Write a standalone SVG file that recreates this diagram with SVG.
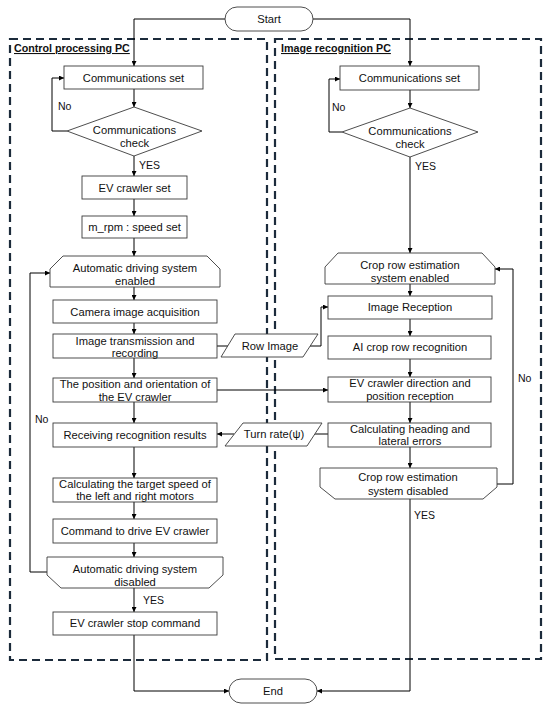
<svg xmlns="http://www.w3.org/2000/svg" width="550" height="711" viewBox="0 0 550 711">
<defs>
<marker id="ah" viewBox="0 0 6 6" refX="6" refY="3" markerWidth="5" markerHeight="5" markerUnits="userSpaceOnUse" orient="auto">
<path d="M0,0 L6,3 L0,6 z" fill="#000"/>
</marker>
<style>
.bg{fill:#fff}
.frame{fill:none;stroke:#1c2b3b;stroke-width:2.2;stroke-dasharray:8,5}
.nd{fill:#fff;stroke:#3a3a3a;stroke-width:0.9}
.t{font-family:"Liberation Sans",Arial,sans-serif;font-size:11.2px;fill:#111;text-anchor:middle}
.lb{font-family:"Liberation Sans",Arial,sans-serif;font-size:10.5px;fill:#111}
.ttl{font-family:"Liberation Sans",Arial,sans-serif;font-size:10.7px;font-weight:bold;fill:#111;text-decoration:underline}
.c{fill:none;stroke:#000;stroke-width:1}
.a{marker-end:url(#ah)}
</style>
</defs>
<rect class="bg" x="0" y="0" width="550" height="711"/>

<g id="frames">
<rect class="frame" x="10" y="39" width="257" height="621"/>
<rect class="frame" x="275" y="39" width="266" height="620"/>
<text class="ttl" x="14" y="52">Control processing PC</text>
<text class="ttl" x="281" y="52">Image recognition PC</text>
</g>

<g id="connectors">
<path class="c a" d="M225,19 H134 V66"/>
<path class="c a" d="M313,19 H410 V66"/>
<path class="c a" d="M134,89 V107"/>
<path class="c a" d="M67,131 H52 V78 H64"/>
<path class="c a" d="M134,156 V176"/>
<path class="c a" d="M134,199 V216"/>
<path class="c a" d="M134,238 V256"/>
<path class="c a" d="M134,287 V300"/>
<path class="c a" d="M134,323 V334"/>
<path class="c a" d="M134,358 V378"/>
<path class="c a" d="M134,402 V423"/>
<path class="c a" d="M134,447 V478"/>
<path class="c a" d="M134,502 V519"/>
<path class="c a" d="M134,543 V557"/>
<path class="c a" d="M47,572 H30 V273 H50"/>
<path class="c a" d="M134,588 V612"/>
<path class="c a" d="M134,635 V691 H229"/>
<path class="c" d="M217,346 H228"/>
<path class="c a" d="M310,346 H321 V307 H328"/>
<path class="c a" d="M217,390 H328"/>
<path class="c" d="M328,434 H314"/>
<path class="c a" d="M234,434 H217"/>
<path class="c a" d="M410,90 V108"/>
<path class="c a" d="M342,132 H329 V79 H340"/>
<path class="c a" d="M410,157 V253"/>
<path class="c a" d="M410,284 V296"/>
<path class="c a" d="M410,319 V336"/>
<path class="c a" d="M410,359 V377"/>
<path class="c a" d="M410,402 V423"/>
<path class="c a" d="M410,447 V468"/>
<path class="c a" d="M497,484 H513 V269 H495"/>
<path class="c a" d="M410,499 V691 H317"/>
</g>

<g id="labels">
<text class="lb" x="58" y="110">No</text>
<text class="lb" x="139" y="169">YES</text>
<text class="lb" x="35" y="423">No</text>
<text class="lb" x="143" y="604">YES</text>
<text class="lb" x="332" y="111">No</text>
<text class="lb" x="415" y="170">YES</text>
<text class="lb" x="518" y="382">No</text>
<text class="lb" x="414" y="519">YES</text>
</g>

<g id="start">
<rect class="nd" x="225" y="7" width="88" height="24" rx="12"/>
<text class="t" x="269" y="23">Start</text>
</g>
<g id="end">
<rect class="nd" x="229" y="679" width="88" height="24" rx="12"/>
<text class="t" x="273" y="695">End</text>
</g>

<g id="l_comm_set">
<rect class="nd" x="64" y="66" width="139" height="23"/>
<text class="t" x="133.5" y="81.5">Communications set</text>
</g>
<g id="l_comm_check">
<polygon class="nd" points="134,107 202,131 134,156 67,131"/>
<text class="t" x="134.5" y="133.5">Communications</text>
<text class="t" x="134.5" y="147">check</text>
</g>
<g id="l_ev_set">
<rect class="nd" x="82" y="176" width="105" height="23"/>
<text class="t" x="134.5" y="191.5">EV crawler set</text>
</g>
<g id="l_rpm">
<rect class="nd" x="82" y="216" width="105" height="22"/>
<text class="t" x="134.5" y="231">m_rpm : speed set</text>
</g>
<g id="l_auto_en">
<polygon class="nd" points="63,256 207,256 220,269 220,287 50,287 50,269"/>
<text class="t" x="135" y="272">Automatic driving system</text>
<text class="t" x="135" y="284.5">enabled</text>
</g>
<g id="l_camera">
<rect class="nd" x="53" y="300" width="164" height="23"/>
<text class="t" x="135" y="315.5">Camera image acquisition</text>
</g>
<g id="l_img_tx">
<rect class="nd" x="53" y="334" width="164" height="24"/>
<text class="t" x="135" y="344.5">Image transmission and</text>
<text class="t" x="135" y="356.5">recording</text>
</g>
<g id="l_pos">
<rect class="nd" x="53" y="378" width="164" height="24"/>
<text class="t" x="135" y="388">The position and orientation of</text>
<text class="t" x="135" y="400.5">the EV crawler</text>
</g>
<g id="l_recv">
<rect class="nd" x="53" y="423" width="164" height="24"/>
<text class="t" x="135" y="439">Receiving recognition results</text>
</g>
<g id="l_calc">
<rect class="nd" x="53" y="478" width="164" height="24"/>
<text class="t" x="135" y="488">Calculating the target speed of</text>
<text class="t" x="135" y="500">the left and right motors</text>
</g>
<g id="l_cmd">
<rect class="nd" x="53" y="519" width="164" height="24"/>
<text class="t" x="135" y="535">Command to drive EV crawler</text>
</g>
<g id="l_auto_dis">
<polygon class="nd" points="47,557 223,557 223,575 209,588 61,588 47,575"/>
<text class="t" x="135" y="573">Automatic driving system</text>
<text class="t" x="135" y="585.5">disabled</text>
</g>
<g id="l_stop">
<rect class="nd" x="53" y="612" width="164" height="23"/>
<text class="t" x="135" y="627">EV crawler stop command</text>
</g>

<g id="r_comm_set">
<rect class="nd" x="340" y="66" width="139" height="24"/>
<text class="t" x="409.5" y="82">Communications set</text>
</g>
<g id="r_comm_check">
<polygon class="nd" points="410,108 478,132 410,157 342,132"/>
<text class="t" x="410" y="134.5">Communications</text>
<text class="t" x="410" y="148">check</text>
</g>
<g id="r_crop_en">
<polygon class="nd" points="338,253 482,253 495,267 495,284 325,284 325,267"/>
<text class="t" x="410" y="269">Crop row estimation</text>
<text class="t" x="410" y="282">system enabled</text>
</g>
<g id="r_img_rx">
<rect class="nd" x="328" y="296" width="164" height="23"/>
<text class="t" x="410" y="311">Image Reception</text>
</g>
<g id="r_ai">
<rect class="nd" x="328" y="336" width="163" height="23"/>
<text class="t" x="410" y="351">AI crop row recognition</text>
</g>
<g id="r_ev_dir">
<rect class="nd" x="328" y="377" width="163" height="25"/>
<text class="t" x="410" y="387">EV crawler direction and</text>
<text class="t" x="410" y="399.5">position reception</text>
</g>
<g id="r_heading">
<rect class="nd" x="328" y="423" width="163" height="24"/>
<text class="t" x="410" y="432.5">Calculating heading and</text>
<text class="t" x="410" y="445">lateral errors</text>
</g>
<g id="r_crop_dis">
<polygon class="nd" points="320,468 497,468 497,487 483,499 335,499 320,487"/>
<text class="t" x="408" y="481">Crop row estimation</text>
<text class="t" x="408" y="495">system disabled</text>
</g>

<g id="row_image">
<polygon class="nd" points="235,334 318,334 303,357 221,357"/>
<text class="t" x="270" y="350">Row Image</text>
</g>
<g id="turn_rate">
<polygon class="nd" points="243,423 322,423 307,446 225,446"/>
<text class="t" x="274" y="438">Turn rate(ψ)</text>
</g>
</svg>
